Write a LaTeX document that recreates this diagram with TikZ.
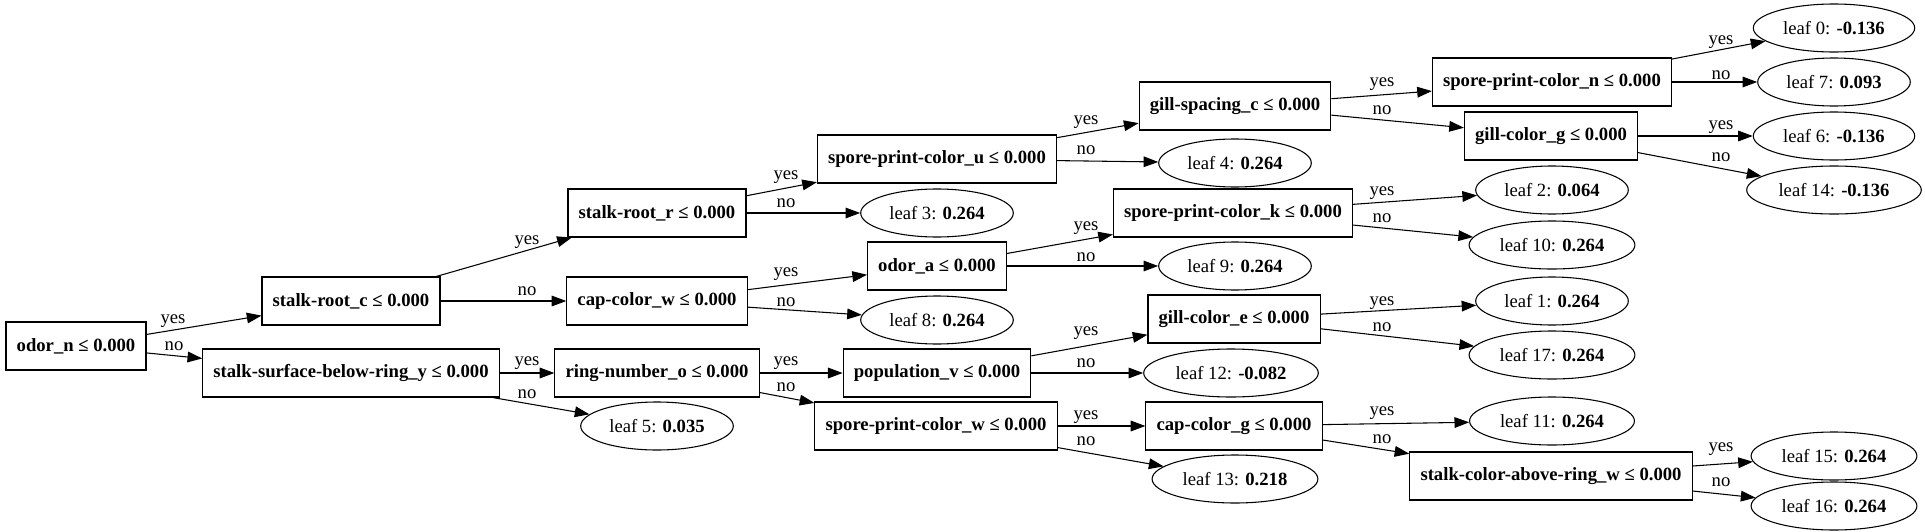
\documentclass[tikz,border=0pt]{standalone}
\usepackage{fontspec}
\setmainfont{Liberation Serif}
\usetikzlibrary{arrows.meta,shapes.geometric}

\newcommand{\fs}{\fontsize{14pt}{17pt}\selectfont}

\tikzset{
  split/.style={draw, line width=0.8pt, rectangle, font=\fs\bfseries,
    inner xsep=8pt, minimum height=36pt},
  leaf/.style={draw, line width=0.8pt, ellipse, font=\fs,
    inner xsep=4.7pt, inner ysep=0pt, minimum height=36pt},
  edge/.style={-{Triangle[length=11pt,width=8pt]}, line width=0.8pt},
  lbl/.style={font=\fs, inner sep=0pt}
}

\begin{document}
\begin{tikzpicture}[x=0.75pt,y=-0.75pt]
\useasboundingbox (0,0) rectangle (1925,532);

% Splits
\node[split] (odorn) at (76,346) {odor\_n ≤ 0.000};
\node[split] (stalkrootc) at (351,301) {stalk-root\_c ≤ 0.000};
\node[split] (ssbry) at (351,373) {stalk-surface-below-ring\_y ≤ 0.000};
\node[split] (stalkrootr) at (657,213) {stalk-root\_r ≤ 0.000};
\node[split] (capcolorw) at (657,301) {cap-color\_w ≤ 0.000};
\node[split] (ringnumbero) at (657,373) {ring-number\_o ≤ 0.000};
\node[split] (sporeu) at (937,159) {spore-print-color\_u ≤ 0.000};
\node[split] (odora) at (937,266) {odor\_a ≤ 0.000};
\node[split] (popv) at (937,373) {population\_v ≤ 0.000};
\node[split] (sporew) at (936,426) {spore-print-color\_w ≤ 0.000};
\node[split] (gillspacingc) at (1235,106) {gill-spacing\_c ≤ 0.000};
\node[split] (sporek) at (1233,213) {spore-print-color\_k ≤ 0.000};
\node[split] (gillcolore) at (1234,319) {gill-color\_e ≤ 0.000};
\node[split] (capcolorg) at (1234,426) {cap-color\_g ≤ 0.000};
\node[split] (sporen) at (1552,82) {spore-print-color\_n ≤ 0.000};
\node[split] (gillcolorg) at (1551,136) {gill-color\_g ≤ 0.000};
\node[split] (stalkcolorw) at (1551,476) {stalk-color-above-ring\_w ≤ 0.000};

% Leaves
\node[leaf] (l0) at (1834,28) {leaf 0: \textbf{-0.136}};
\node[leaf] (l1) at (1552,301) {leaf 1: \textbf{0.264}};
\node[leaf] (l2) at (1552,190) {leaf 2: \textbf{0.064}};
\node[leaf] (l3) at (937,213) {leaf 3: \textbf{0.264}};
\node[leaf] (l4) at (1235,163) {leaf 4: \textbf{0.264}};
\node[leaf] (l5) at (657,426) {leaf 5: \textbf{0.035}};
\node[leaf] (l6) at (1834,136) {leaf 6: \textbf{-0.136}};
\node[leaf] (l7) at (1834,82) {leaf 7: \textbf{0.093}};
\node[leaf] (l8) at (937,320) {leaf 8: \textbf{0.264}};
\node[leaf] (l9) at (1235,266) {leaf 9: \textbf{0.264}};
\node[leaf] (l10) at (1552,245) {leaf 10: \textbf{0.264}};
\node[leaf] (l11) at (1552,421) {leaf 11: \textbf{0.264}};
\node[leaf] (l12) at (1231,373) {leaf 12: \textbf{-0.082}};
\node[leaf] (l13) at (1235,479) {leaf 13: \textbf{0.218}};
\node[leaf] (l14) at (1834,190) {leaf 14: \textbf{-0.136}};
\node[leaf] (l15) at (1834,456) {leaf 15: \textbf{0.264}};
\node[leaf] (l16) at (1834,506) {leaf 16: \textbf{0.264}};
\node[leaf] (l17) at (1552,355) {leaf 17: \textbf{0.264}};

% Edges
\draw[edge] (odorn) -- (stalkrootc);
\draw[edge] (odorn) -- (ssbry);
\draw[edge] (stalkrootc) -- (stalkrootr);
\draw[edge] (stalkrootc) -- (capcolorw);
\draw[edge] (ssbry) -- (ringnumbero);
\draw[edge] (ssbry) -- (l5);
\draw[edge] (stalkrootr) -- (sporeu);
\draw[edge] (stalkrootr) -- (l3);
\draw[edge] (capcolorw) -- (odora);
\draw[edge] (capcolorw) -- (l8);
\draw[edge] (ringnumbero) -- (popv);
\draw[edge] (ringnumbero) -- (sporew);
\draw[edge] (sporeu) -- (gillspacingc);
\draw[edge] (sporeu) -- (l4);
\draw[edge] (odora) -- (sporek);
\draw[edge] (odora) -- (l9);
\draw[edge] (popv) -- (gillcolore);
\draw[edge] (popv) -- (l12);
\draw[edge] (sporew) -- (capcolorg);
\draw[edge] (sporew) -- (l13);
\draw[edge] (gillspacingc) -- (sporen);
\draw[edge] (gillspacingc) -- (gillcolorg);
\draw[edge] (sporek) -- (l2);
\draw[edge] (sporek) -- (l10);
\draw[edge] (gillcolore) -- (l1);
\draw[edge] (gillcolore) -- (l17);
\draw[edge] (capcolorg) -- (l11);
\draw[edge] (capcolorg) -- (stalkcolorw);
\draw[edge] (sporen) -- (l0);
\draw[edge] (sporen) -- (l7);
\draw[edge] (gillcolorg) -- (l6);
\draw[edge] (gillcolorg) -- (l14);
\draw[edge] (stalkcolorw) -- (l15);
\draw[edge] (stalkcolorw) -- (l16);

% Edge labels
\node[lbl] (y1) at (173,321) {yes};
\node[lbl] (n1) at (174,346) {no};
\node[lbl] (y2) at (527,242) {yes};
\node[lbl] (n2) at (527,291) {no};
\node[lbl] (y3) at (527,363) {yes};
\node[lbl] (n3) at (527,394) {no};
\node[lbl] (y4) at (786,177) {yes};
\node[lbl] (n4) at (786,203) {no};
\node[lbl] (y5) at (786,274) {yes};
\node[lbl] (n5) at (786,302) {no};
\node[lbl] (y6) at (786,363) {yes};
\node[lbl] (n6) at (786,387) {no};
\node[lbl] (y7) at (1086,122) {yes};
\node[lbl] (n7) at (1086,150) {no};
\node[lbl] (y8) at (1086,228) {yes};
\node[lbl] (n8) at (1086,257) {no};
\node[lbl] (y9) at (1086,333) {yes};
\node[lbl] (n9) at (1086,363) {no};
\node[lbl] (y10) at (1086,417) {yes};
\node[lbl] (n10) at (1086,441) {no};
\node[lbl] (y11) at (1382,84) {yes};
\node[lbl] (n11) at (1382,110) {no};
\node[lbl] (y12) at (1382,193) {yes};
\node[lbl] (n12) at (1382,218) {no};
\node[lbl] (y13) at (1382,303) {yes};
\node[lbl] (n13) at (1382,327) {no};
\node[lbl] (y14) at (1382,413) {yes};
\node[lbl] (n14) at (1382,439) {no};
\node[lbl] (y15) at (1721,42) {yes};
\node[lbl] (n15) at (1721,75) {no};
\node[lbl] (y16) at (1721,127) {yes};
\node[lbl] (n16) at (1721,157) {no};
\node[lbl] (y17) at (1721,449) {yes};
\node[lbl] (n17) at (1721,482) {no};

\end{tikzpicture}
\end{document}
